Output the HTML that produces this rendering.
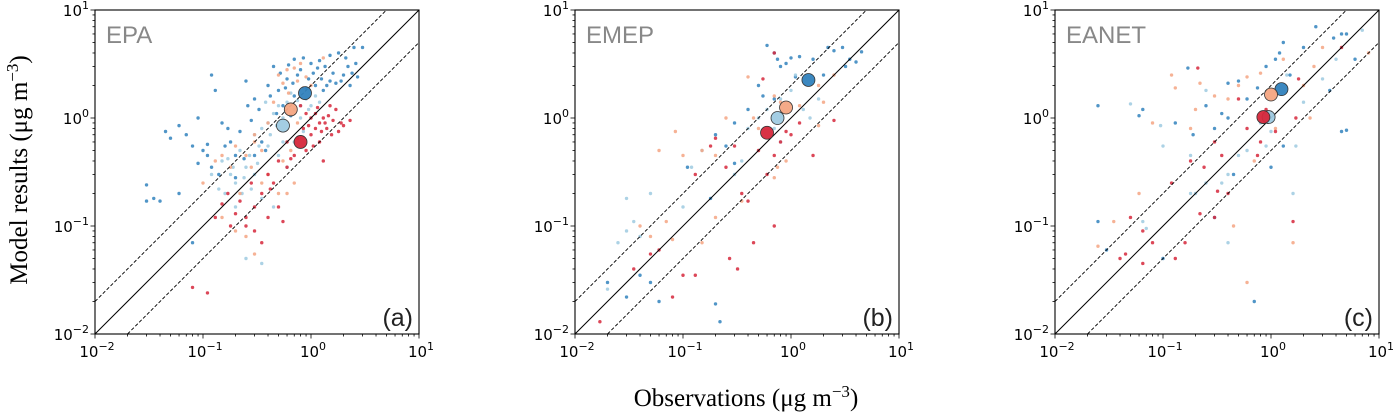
<!DOCTYPE html>
<html><head><meta charset="utf-8">
<style>
body{margin:0;background:#fff;}
svg{display:block;}
</style></head>
<body>
<svg id="chart" width="1393" height="413" xmlns="http://www.w3.org/2000/svg"></svg>
<script>
// ---- data (obs, model) in µg m-3 ----
const panelNames = ["EPA","EMEP","EANET"];
const panelLetters = ["(a)","(b)","(c)"];
const seriesColors = ["#3182bd","#9ecae1","#f4a582","#d6273b"];
const tickLabelsExp = ["-2","-1","0","1"];

const epaDark = [[0.03,0.24],[0.03,0.17],[0.035,0.18],[0.04,0.17],[0.045,0.75],[0.05,0.65],[0.06,0.85],[0.07,0.7],[0.08,0.55],[0.09,1.0],[0.1,0.5],[0.11,0.57],[0.12,2.5],[0.12,0.35],[0.13,1.8],[0.15,0.9],[0.2,0.45],[0.25,2.2],[0.3,1.5],[0.35,0.6],[0.4,2.0],[0.45,3.0],[0.5,1.8],[0.6,2.3],[0.7,3.5],[0.8,2.8],[1.0,3.2],[1.2,3.4],[1.5,2.2],[1.5,3.8],[1.8,4.0],[2.0,2.5],[2.3,2.0],[2.5,4.5],[3.0,4.5],[1.1,2.0],[1.3,1.8],[0.9,1.9],[1.6,2.6],[2.2,3.0],[0.3,0.45],[0.2,0.28],[0.18,0.6],[0.55,1.3],[0.7,1.6],[2.7,2.4],[0.08,0.07],[0.06,0.2],[1.4,2.0],[1.9,2.2],[2.4,2.6],[0.95,2.3],[0.16,0.55],[0.22,0.75],[0.28,0.95],[0.33,1.2],[0.38,0.5],[0.42,1.6],[0.48,1.1],[0.52,2.6],[0.58,1.9],[0.62,3.1],[0.68,2.1],[0.75,2.5],[0.85,3.6],[1.05,2.6],[1.15,2.9],[1.25,2.3],[1.35,3.0],[1.7,2.1],[2.1,3.6],[2.6,3.2],[0.14,0.3],[0.24,0.42],[0.26,1.3],[0.11,0.45],[0.17,0.8],[0.09,0.38],[0.65,1.05]];
const epaLight = [[0.15,0.4],[0.18,0.3],[0.2,0.25],[0.22,0.5],[0.25,0.35],[0.3,0.7],[0.35,0.8],[0.4,0.55],[0.45,1.1],[0.5,1.3],[0.55,1.0],[0.6,1.4],[0.7,1.2],[0.8,1.0],[0.9,1.5],[1.0,1.3],[1.1,1.6],[0.16,0.2],[0.2,0.15],[0.12,0.3],[0.28,0.22],[0.35,0.18],[0.45,0.15],[0.25,0.05],[0.35,0.045],[0.6,0.35],[0.7,0.6],[0.4,0.9],[0.3,0.3],[0.5,0.45],[0.17,0.42],[0.65,1.7],[0.8,1.3],[0.24,0.28],[0.38,1.4],[0.14,0.22],[0.19,0.35],[0.23,0.2],[0.27,0.45],[0.32,0.38],[0.42,0.7],[0.48,0.85],[0.58,1.15],[0.75,1.45],[0.95,1.2],[1.2,1.4],[0.85,0.75],[0.55,0.6],[0.33,0.55]];
const epaSalmon = [[0.1,0.25],[0.13,0.4],[0.15,0.45],[0.2,0.55],[0.25,0.45],[0.3,0.6],[0.3,0.7],[0.4,0.9],[0.45,1.4],[0.5,2.5],[0.6,2.8],[0.7,2.9],[0.8,3.2],[0.9,2.4],[1.0,2.0],[1.3,3.6],[0.6,0.2],[0.7,0.25],[0.5,0.2],[0.2,0.09],[0.25,0.08],[0.3,0.055],[0.15,0.12],[0.35,0.25],[0.4,0.3],[0.55,0.4],[0.65,0.5],[0.75,0.9],[0.22,0.2],[0.28,0.35],[0.55,2.1],[0.75,2.2],[0.85,1.9],[0.62,1.7],[0.18,0.35],[0.35,0.5]];
const epaRed = [[0.8,1.3],[1.0,1.0],[1.2,0.9],[1.4,0.8],[1.6,0.95],[1.8,0.75],[2.0,0.85],[2.3,0.95],[1.0,0.7],[1.2,0.6],[0.9,0.5],[0.7,0.45],[0.6,0.35],[0.5,0.4],[0.4,0.3],[0.35,0.2],[0.3,0.15],[0.25,0.12],[0.2,0.13],[0.15,0.16],[0.13,0.12],[0.25,0.1],[0.3,0.09],[0.35,0.07],[0.4,0.12],[0.5,0.15],[0.55,0.11],[0.08,0.027],[0.11,0.024],[1.5,1.3],[1.3,0.4],[0.45,0.25],[1.1,1.1],[0.18,0.1],[0.6,0.6],[0.85,0.8],[1.7,1.2],[1.3,1.0],[1.9,0.9],[1.1,0.8],[0.95,0.85],[1.05,0.55],[1.25,0.75],[1.45,1.05],[1.55,0.7],[1.15,1.25],[0.75,0.65],[0.65,0.42],[0.42,0.22],[0.28,0.25],[0.22,0.17],[0.17,0.2],[0.9,1.1],[1.35,0.9]];

const emepDark = [[0.6,4.7],[0.7,4.0],[0.75,3.5],[0.8,3.0],[0.9,3.2],[1.0,3.6],[1.2,3.7],[1.6,3.5],[2.0,2.5],[2.2,4.5],[2.5,4.2],[3.0,4.5],[3.5,3.5],[4.0,3.3],[4.5,4.1],[3.2,3.0],[0.5,2.0],[0.55,1.6],[0.4,1.2],[0.3,0.9],[0.25,0.55],[0.2,0.7],[0.3,0.38],[0.18,0.18],[0.02,0.03],[0.04,0.035],[0.05,0.03],[0.06,0.02],[0.03,0.022],[0.2,0.019],[0.22,0.013],[0.11,0.35],[0.7,1.5],[1.1,2.4]];
const emepLight = [[0.02,0.026],[0.025,0.07],[0.03,0.09],[0.035,0.11],[0.04,0.08],[0.05,0.2],[0.03,0.18],[0.1,0.15],[0.12,0.35],[0.15,0.5],[0.3,0.3],[0.4,0.8],[0.5,1.0],[0.6,1.2],[0.8,1.5],[1.0,1.8],[1.1,2.5],[1.3,1.2],[1.5,1.0],[1.8,1.5],[0.8,0.6],[0.35,0.4],[0.7,0.8]];
const emepSalmon = [[0.085,0.75],[0.06,0.5],[0.04,0.1],[0.05,0.08],[0.07,0.11],[0.08,0.075],[0.1,0.45],[0.15,0.5],[0.2,0.45],[0.25,1.0],[0.4,2.4],[0.45,1.0],[0.5,0.8],[0.7,1.6],[0.8,1.4],[0.9,0.4],[1.2,1.3],[1.8,2.0],[2.0,1.4],[2.5,2.5],[1.8,0.85],[0.7,0.28],[0.35,0.17],[0.2,0.12],[0.15,0.07],[0.75,0.35]];
const emepRed = [[0.017,0.013],[0.035,0.04],[0.05,0.055],[0.06,0.06],[0.08,0.022],[0.1,0.035],[0.13,0.035],[0.13,0.3],[0.18,0.55],[0.2,0.65],[0.25,0.35],[0.27,0.05],[0.32,0.04],[0.35,0.2],[0.4,0.17],[0.3,0.55],[0.5,0.5],[0.6,0.3],[0.7,0.45],[0.8,0.6],[1.0,0.7],[0.7,0.1],[0.45,0.07],[0.7,4.0],[1.6,0.45],[2.5,0.95],[0.9,0.75],[1.2,0.9],[0.55,2.3]];

const eanetDark = [[0.025,0.11],[0.025,1.3],[0.06,1.05],[0.065,1.2],[0.03,0.06],[0.1,0.05],[0.13,0.9],[0.17,2.9],[0.19,0.7],[0.25,1.3],[0.3,0.8],[0.35,1.1],[0.4,2.1],[0.4,1.0],[0.5,2.2],[0.6,1.5],[0.75,1.9],[0.9,3.0],[1.1,3.5],[1.2,4.0],[1.3,5.0],[1.5,2.5],[2.0,4.5],[2.6,7.0],[3.8,5.5],[4.5,6.0],[5.0,6.0],[6.0,3.5],[3.5,1.8],[4.5,0.75],[5.0,0.77],[1.3,0.55],[1.0,0.35],[0.7,0.02],[0.3,0.12],[0.45,0.3]];
const eanetLight = [[0.05,1.35],[0.095,0.85],[0.1,0.55],[0.065,0.11],[0.07,0.095],[0.18,0.45],[0.18,0.2],[0.2,0.2],[0.25,0.25],[0.35,0.25],[0.4,0.3],[0.5,0.45],[0.6,0.5],[0.9,0.55],[1.0,0.75],[1.6,0.2],[0.4,0.07],[1.7,0.55],[2.0,1.4],[3.0,2.3],[4.0,3.5],[7.0,6.5],[1.4,2.5],[0.25,1.8],[0.8,0.9]];
const eanetSalmon = [[0.025,0.065],[0.035,0.11],[0.06,0.2],[0.08,0.9],[0.12,2.5],[0.13,1.9],[0.18,0.8],[0.2,1.2],[0.22,2.1],[0.3,1.6],[0.4,1.5],[0.5,2.0],[0.6,2.4],[0.8,2.6],[1.0,1.1],[1.3,3.5],[2.0,2.0],[2.5,3.0],[3.0,4.5],[2.3,1.0],[8.0,4.0],[0.45,0.1],[0.6,0.03],[1.6,0.07],[0.7,0.4],[1.1,0.8]];
const eanetRed = [[0.045,0.055],[0.04,0.05],[0.05,0.12],[0.065,0.09],[0.065,0.045],[0.08,0.07],[0.12,0.25],[0.13,0.05],[0.16,0.07],[0.18,0.4],[0.21,2.9],[0.22,0.13],[0.24,0.35],[0.3,0.12],[0.32,0.21],[0.35,0.45],[0.4,0.2],[0.5,1.5],[0.6,0.8],[0.8,0.6],[0.9,1.2],[1.1,0.75],[1.6,0.11],[1.7,1.0],[1.8,2.3],[4.5,4.5],[0.3,0.6],[0.75,0.45]];

// mean markers per panel, order: dark, light, salmon, red
const epaMeans = [[0.88,1.7],[0.55,0.85],[0.65,1.2],[0.8,0.6]];
const emepMeans = [[1.45,2.25],[0.75,1.0],[0.9,1.25],[0.6,0.73]];
const eanetMeans = [[1.25,1.85],[0.95,1.02],[1.0,1.65],[0.85,1.02]];

const panelSeries = [[epaDark,epaLight,epaSalmon,epaRed],[emepDark,emepLight,emepSalmon,emepRed],[eanetDark,eanetLight,eanetSalmon,eanetRed]];
const panelMeans = [epaMeans,emepMeans,eanetMeans];

// ---- layout ----
const NS="http://www.w3.org/2000/svg";
const svg=document.getElementById('chart');
const lefts=[95,575,1055], top0=10, size=324;
function mk(tag,attrs,parent){const e=document.createElementNS(NS,tag);for(const k in attrs)e.setAttribute(k,attrs[k]);(parent||svg).appendChild(e);return e;}

panelNames.forEach((nm,pi)=>{
  const L=lefts[pi];
  const xs=v=>L+(Math.log10(v)+2)/3*size;
  const ys=v=>top0+size-(Math.log10(v)+2)/3*size;
  const g=mk('g',{});
  
  
  const cid='clip'+pi;
  const cp=mk('clipPath',{id:cid},g); mk('rect',{x:L,y:top0,width:size,height:size},cp);
  panelSeries[pi].forEach((ser,si)=>{
    const sg=mk('g',{'clip-path':'url(#'+cid+')'},g);
    
    
    ser.forEach(p=>{
      const c=mk('circle',{cx:xs(p[0]),cy:ys(p[1]),r:1.7,fill:seriesColors[si],'fill-opacity':0.85},sg);
      
      
    });
  });
  const lg=mk('g',{'clip-path':'url(#'+cid+')'},g);
  const l1=mk('line',{x1:xs(0.01),y1:ys(0.01),x2:xs(10),y2:ys(10),stroke:'#000','stroke-width':1},lg);
   
  const l2=mk('line',{x1:xs(0.01),y1:ys(0.02),x2:xs(5),y2:ys(10),stroke:'#000','stroke-width':0.9,'stroke-dasharray':'3.5,2'},lg);
   
  const l3=mk('line',{x1:xs(0.02),y1:ys(0.01),x2:xs(10),y2:ys(5),stroke:'#000','stroke-width':0.9,'stroke-dasharray':'3.5,2'},lg);
   
  panelMeans[pi].forEach((p,si)=>{
    const c=mk('circle',{cx:xs(p[0]),cy:ys(p[1]),r:6.5,fill:seriesColors[si],stroke:'#333','stroke-width':0.8,'fill-opacity':0.95},g);
    
    
  });
  const fr=mk('rect',{x:L,y:top0,width:size,height:size,fill:'none',stroke:'#000','stroke-width':1.1},g);
   
  for(let d=-2;d<=1;d++){
    for(let m=1;m<=9;m++){
      const v=m*Math.pow(10,d); if(v>10.0001) break;
      if(d===1&&m>1) break;
      const len=m===1?4.5:2.5;
      mk('line',{x1:xs(v),y1:top0+size,x2:xs(v),y2:top0+size+len,stroke:'#000','stroke-width':0.8},g);
      mk('line',{x1:L,y1:ys(v),x2:L-len,y2:ys(v),stroke:'#000','stroke-width':0.8},g);
    }
  }
  tickLabelsExp.forEach((e,i)=>{
    const v=Math.pow(10,i-2);
    const tx=mk('text',{x:xs(v)+2,y:top0+size+23,'text-anchor':'middle','font-family':'DejaVu Sans, Liberation Sans, sans-serif','font-size':15},g);
     
    tx.innerHTML='10<tspan dy="-7" font-size="11">'+e.replace('-','\u2212')+'</tspan>';
    const ty=mk('text',{x:L-6,y:ys(v)+6,'text-anchor':'end','font-family':'DejaVu Sans, Liberation Sans, sans-serif','font-size':15},g);
     
    ty.innerHTML='10<tspan dy="-7" font-size="11">'+e.replace('-','\u2212')+'</tspan>';
  });
  const t=mk('text',{x:L+11,y:top0+33,'font-family':'Liberation Sans, sans-serif','font-size':24,fill:'#888'},g);
  t.textContent=nm;  
  const lt=mk('text',{x:L+size-6,y:top0+size-8,'text-anchor':'end','font-family':'Liberation Sans, sans-serif','font-size':25,fill:'#222'},g);
  lt.textContent=panelLetters[pi];  
});
const yt=mk('text',{x:0,y:0,transform:'translate(27,170) rotate(-90)','text-anchor':'middle','font-family':'Liberation Serif, serif','font-size':25});
 
yt.innerHTML='Model results (μg m<tspan dy="-9" font-size="17">\u22123</tspan><tspan dy="9">)</tspan>';
const xt=mk('text',{x:746,y:406,'text-anchor':'middle','font-family':'Liberation Serif, serif','font-size':25});
 
xt.innerHTML='Observations (μg m<tspan dy="-9" font-size="17">\u22123</tspan><tspan dy="9">)</tspan>';
</script>
</body></html>
